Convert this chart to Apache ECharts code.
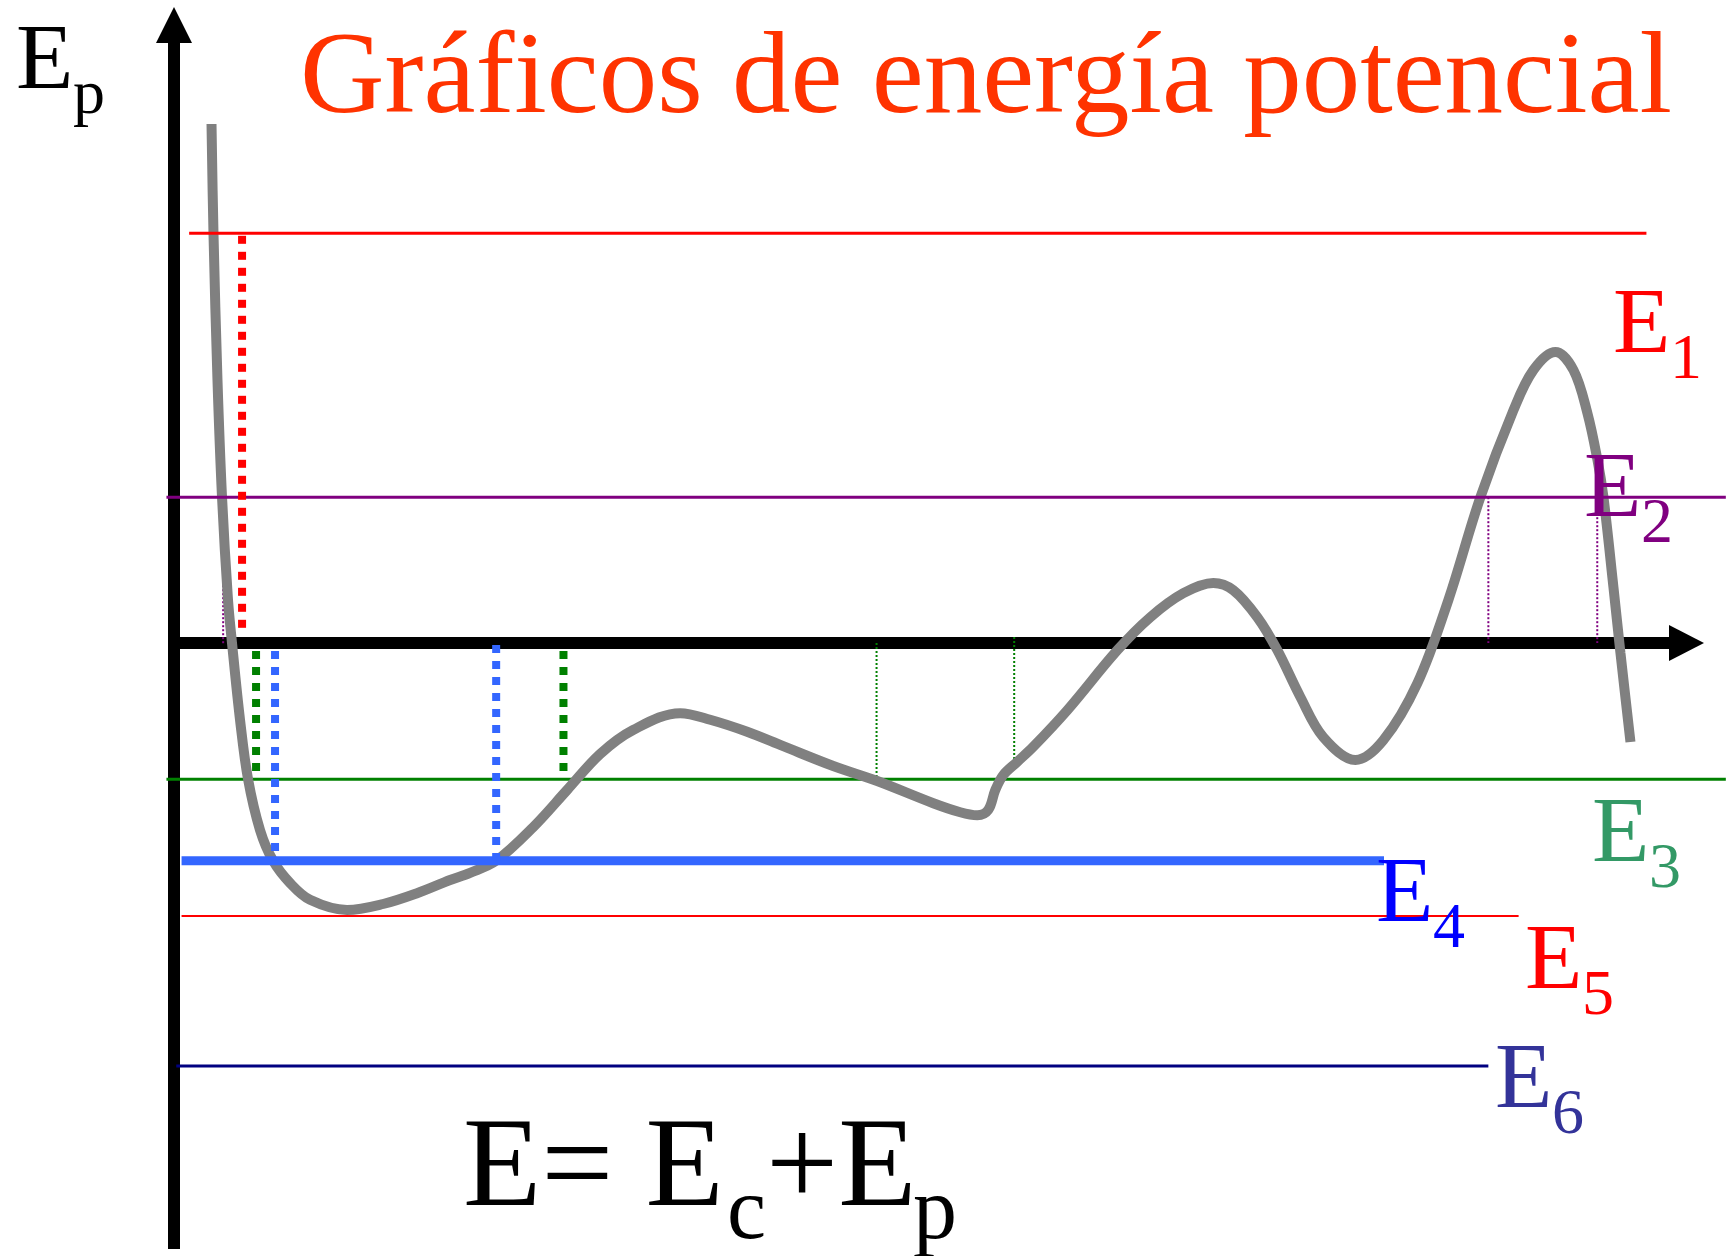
<!DOCTYPE html>
<html>
<head>
<meta charset="utf-8">
<script src="https://cdn.jsdelivr.net/npm/echarts@6/dist/echarts.min.js"></script>
<style>
  html, body { margin: 0; padding: 0; background: #ffffff; }
  #chart { width: 1726px; height: 1256px; }
</style>
</head>
<body>
<div id="chart"></div>
<script>
// Potential energy Ep as a function of position r
const curveR = [0.496, 0.522, 0.575, 0.635, 0.714, 0.767, 0.873, 0.979, 1.138, 1.310,
  1.534, 1.799, 2.288, 2.765, 3.214, 3.651, 3.915, 4.259, 4.749, 5.198,
  5.635, 6.071, 6.693, 7.090, 7.579, 8.056, 8.717, 9.299, 10.040, 10.397,
  10.622, 10.767, 10.860, 10.966, 11.151, 11.362, 11.812, 12.474, 12.910, 13.347,
  13.743, 14.008, 14.325, 14.590, 14.894, 15.198, 15.622, 15.992, 16.442, 16.852,
  17.275, 17.712, 17.976, 18.267, 18.505, 18.690, 18.823, 18.902, 19.034, 19.127, 19.259];
const curveEp = [8.65, 6.83, 4.38, 2.43, 0.72, 0.00, -1.28, -2.27, -3.12, -3.63,
  -4.00, -4.28, -4.45, -4.35, -4.17, -3.95, -3.83, -3.63, -3.07, -2.45,
  -1.85, -1.45, -1.17, -1.28, -1.48, -1.72, -2.05, -2.30, -2.67, -2.82,
  -2.87, -2.78, -2.45, -2.20, -1.98, -1.73, -1.12, -0.12, 0.43, 0.83,
  1.00, 0.88, 0.43, -0.12, -0.90, -1.57, -1.95, -1.62, -0.67, 0.72,
  2.43, 3.88, 4.55, 4.85, 4.55, 3.83, 3.05, 2.43, 0.93, -0.17, -1.65];

// Total energy levels
const levelNames = ['1', '2', '3', '4', '5', '6'];
const levelEnergy = [6.83, 2.43, -2.27, -3.63, -4.55, -7.05];
const levelFrom = [0.20, -0.10, -0.10, 0.10, 0.10, 0.03];
const levelTo = [19.47, 20.52, 20.52, 16.00, 17.78, 17.38];

// Turning points: vertical guides between a level and the r axis
const guideR = [0.90, 0.65, 17.38, 18.82, 1.085, 5.15, 1.336, 4.26, 9.29, 11.11];
const guideTop = [6.92, 2.43, 2.43, 2.43, 0.00, 0.00, 0.00, 0.10, 0.00, 0.10];
const guideBottom = [0.23, -0.03, 0.00, 0.00, -2.27, -2.27, -3.63, -3.63, -2.27, -2.08];
const guideLevel = [0, 1, 1, 1, 2, 2, 3, 3, 2, 2];

// Texts
const titleText = 'Gráficos de energía potencial';
const axisName = ['E', 'p'];
const formulaParts = ['E= E', 'c', '+E', 'p'];

// ---- styles ----
const SERIF = '"Liberation Serif", "Times New Roman", serif';
const levelLineColor = ['#ff0000', '#800080', '#008000', '#3366ff', '#ff0000', '#000080'];
const levelLineWidth = [3, 3, 3, 9, 2, 3];
const levelLabelColor = ['#ff0000', '#800080', '#339966', '#0000ff', '#ff0000', '#333399'];
const levelLabelPos = [[1613, 354], [1584, 518], [1592, 863], [1376, 923], [1525, 990], [1495, 1109]];
const guideColor = ['#ff0000', '#800080', '#008000', '#3366ff'];
const guideThick = [true, false, false, false, true, true, true, true, false, false];

// scale shared by both grids: 75.625 px per r unit, 60 px per energy unit
const PX_R = 75.625, PX_E = 60, ORIGIN_X = 174, ORIGIN_Y = 643, W = 1726, H = 1256;

const series = [];
const onData = { xAxisIndex: 1, yAxisIndex: 1 };

// energy curve
series.push(Object.assign({
  type: 'line',
  data: curveR.map((r, i) => [r, curveEp[i]]),
  smooth: 0.35,
  symbol: 'none',
  silent: true,
  z: 3,
  lineStyle: { color: '#808080', width: 10, cap: 'butt' }
}, onData));

// horizontal energy levels
levelEnergy.forEach((e, i) => {
  series.push(Object.assign({
    type: 'line',
    data: [[levelFrom[i], e], [levelTo[i], e]],
    symbol: 'none',
    silent: true,
    z: i === 2 ? 2 : 4,
    lineStyle: { color: levelLineColor[i], width: levelLineWidth[i], cap: 'butt' }
  }, onData));
});

// dotted guides at the turning points
guideR.forEach((r, i) => {
  const thick = guideThick[i];
  series.push(Object.assign({
    type: 'line',
    data: [[r, guideTop[i]], [r, guideBottom[i]]],
    symbol: 'none',
    silent: true,
    z: thick ? 5 : 2,
    lineStyle: {
      color: guideColor[guideLevel[i]],
      width: thick ? 8 : 2,
      type: thick ? [8, 8] : [2, 2],
      dashOffset: thick ? 8 : 0,
      cap: 'butt'
    }
  }, onData));
});

// text helper: x = left edge, b = alphabetic baseline
function txt(x, b, s, size, color) {
  return {
    type: 'text',
    x: x,
    y: b - 0.28 * size,
    z: 100,
    silent: true,
    style: {
      text: s,
      fontFamily: SERIF,
      fontSize: size,
      fill: color,
      align: 'left',
      verticalAlign: 'middle'
    }
  };
}

const graphics = [];
graphics.push(txt(300, 114, titleText, 117, '#ff3300'));
graphics.push(txt(16, 90, axisName[0], 94, '#000000'));
graphics.push(txt(73, 114, axisName[1], 64, '#000000'));
levelNames.forEach((n, i) => {
  const p = levelLabelPos[i];
  graphics.push(txt(p[0], p[1], 'E', 94, levelLabelColor[i]));
  graphics.push(txt(p[0] + 57, p[1] + 25, n, 64, levelLabelColor[i]));
});
graphics.push(txt(463, 1207, formulaParts[0], 128, '#000000'));
graphics.push(txt(727, 1240, formulaParts[1], 88, '#000000'));
graphics.push(txt(766, 1207, formulaParts[2], 128, '#000000'));
graphics.push(txt(913, 1240, formulaParts[3], 88, '#000000'));

const hidden = {
  type: 'value',
  gridIndex: 1,
  show: false
};
const axisCommon = {
  type: 'value',
  gridIndex: 0,
  axisTick: { show: false },
  axisLabel: { show: false },
  splitLine: { show: false }
};
const axisLineStyle = { color: '#000000', width: 12, cap: 'butt' };

const gridAxes = { left: 174, right: 39.5, top: 25, bottom: 7 };

const chart = echarts.init(document.getElementById('chart'), null, { renderer: 'canvas' });
chart.setOption({
  animation: false,
  backgroundColor: '#ffffff',
  grid: [
    Object.assign({ containLabel: false }, gridAxes),
    { left: 0, right: 0, top: 0, bottom: 0, containLabel: false }
  ],
  xAxis: [
    Object.assign({}, axisCommon, {
      min: 0,
      max: (W - gridAxes.right - ORIGIN_X) / PX_R,
      axisLine: { show: true, onZero: true, symbol: ['none', 'triangle'], symbolSize: [36, 35], lineStyle: axisLineStyle }
    }),
    Object.assign({}, hidden, { min: -ORIGIN_X / PX_R, max: (W - ORIGIN_X) / PX_R })
  ],
  yAxis: [
    Object.assign({}, axisCommon, {
      min: -(H - gridAxes.bottom - ORIGIN_Y) / PX_E,
      max: (ORIGIN_Y - gridAxes.top) / PX_E,
      axisLine: { show: true, onZero: true, symbol: ['none', 'triangle'], symbolSize: [36, 36], lineStyle: axisLineStyle }
    }),
    Object.assign({}, hidden, { min: -(H - ORIGIN_Y) / PX_E, max: ORIGIN_Y / PX_E })
  ],
  series: series,
  graphic: graphics
});
</script>
</body>
</html>
